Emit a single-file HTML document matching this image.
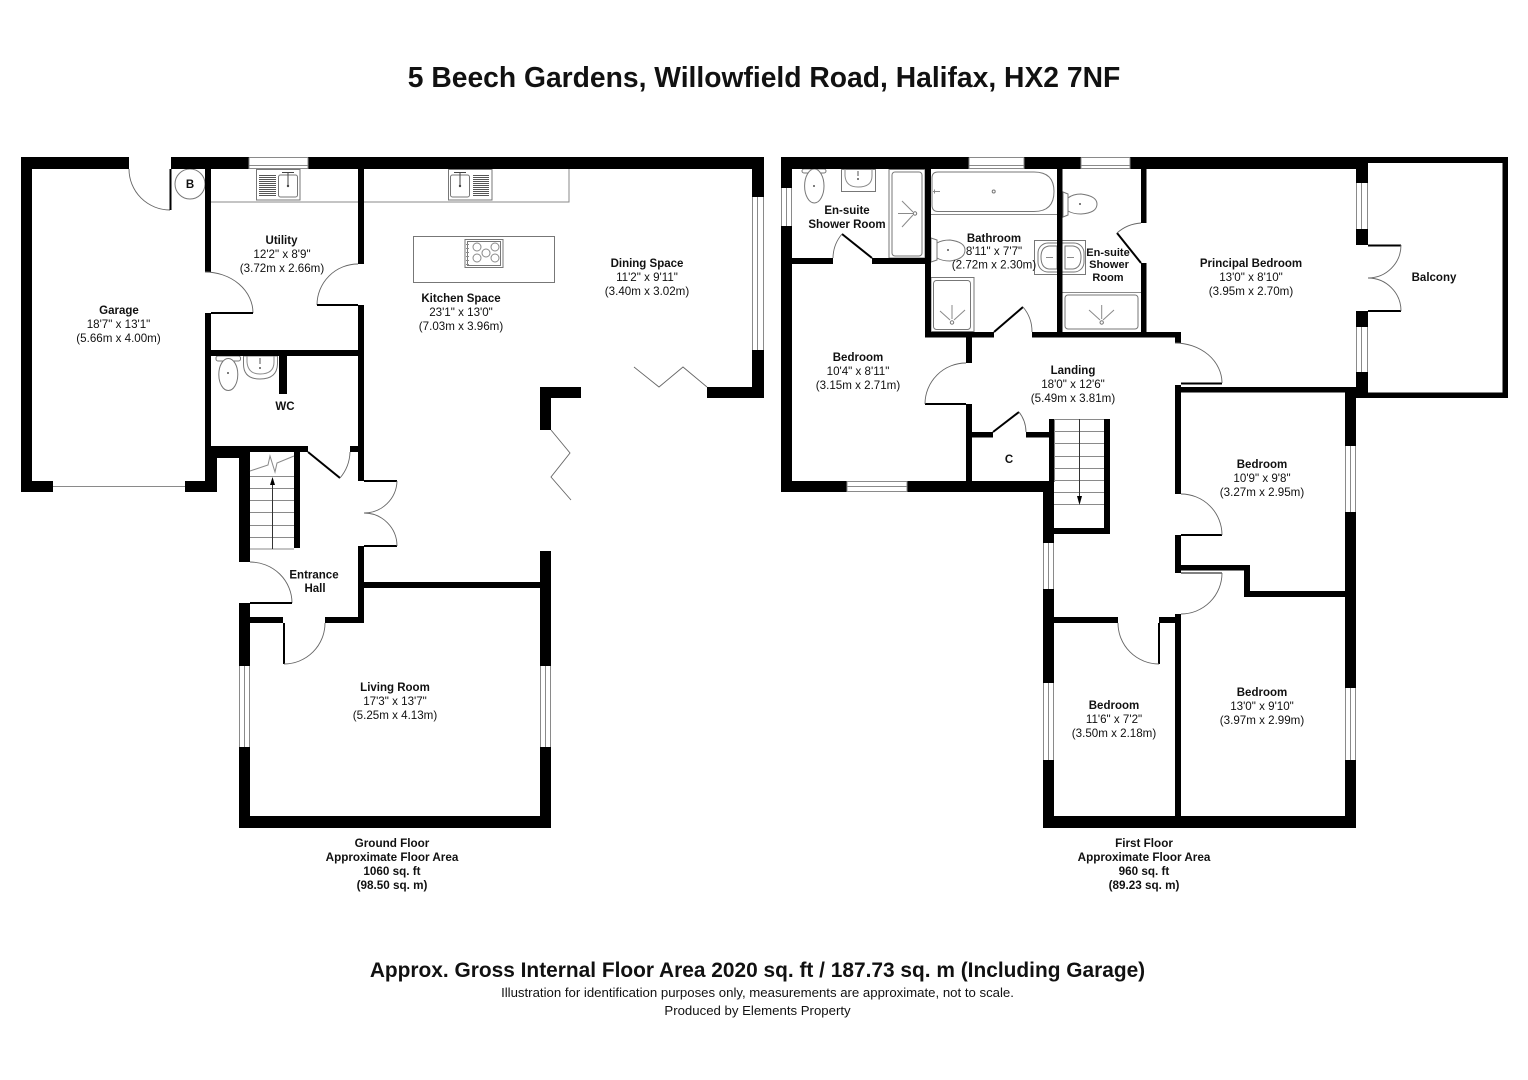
<!DOCTYPE html>
<html><head><meta charset="utf-8"><style>
html,body{margin:0;padding:0;background:#fff}
svg{display:block}
text{font-family:"Liberation Sans",Arial,sans-serif;text-anchor:middle;fill:#111}
.n{font-size:11.5px;font-weight:bold}
.d{font-size:11.6px}
.s{font-size:11.7px;font-weight:bold}
.w{fill:#000}
.a{fill:none;stroke:#666;stroke-width:.9}
.l{fill:none;stroke:#000;stroke-width:2}
.g{fill:none;stroke:#8a8a8a;stroke-width:1}
.f{fill:#fff;stroke:#777;stroke-width:1}
</style></head><body>
<svg width="1528" height="1080" viewBox="0 0 1528 1080" xmlns="http://www.w3.org/2000/svg">
<rect width="1528" height="1080" fill="#fff"/>
<text x="764" y="87" style="font-size:28.25px;font-weight:bold">5 Beech Gardens, Willowfield Road, Halifax, HX2 7NF</text>

<!-- GROUND FLOOR fixtures -->
<path class="g" d="M211 202H569V169"/>
<path class="g" d="M53 486.5H185"/>
<rect class="f" x="413.5" y="236.5" width="141" height="46"/>
<!-- hob -->
<rect class="f" x="465" y="239.5" width="38" height="28"/>
<rect class="f" x="467.5" y="241.5" width="33" height="24"/>
<g class="g"><circle cx="477" cy="247" r="4"/><circle cx="495" cy="247" r="4"/><circle cx="486" cy="253" r="4"/><circle cx="477" cy="258" r="4"/><circle cx="495" cy="258" r="4"/></g>
<path class="g" d="M466 244.500h3M466 248.500h3M466 252.500h3M466 256.500h3M466 260.500h3M466 264.500h3"/>
<!-- kitchen sink -->
<rect class="f" x="448.5" y="169.5" width="43.500" height="30.500"/>
<rect class="f" x="450.500" y="175" width="19" height="22" rx="2"/>
<path stroke="#555" stroke-width="1" d="M473 175.500h16M473 177.500h16M473 179.500h16M473 181.500h16M473 183.500h16M473 185.500h16M473 187.500h16M473 189.500h16M473 191.500h16M473 193.500h16M473 195.500h16"/>
<path stroke="#444" stroke-width="1" fill="none" d="M460 172v14M454 172.500h12"/>
<circle cx="460" cy="186" r="1.200" fill="#444"/>
<!-- utility sink -->
<rect class="f" x="256.500" y="169.500" width="43.500" height="30.500"/>
<rect class="f" x="278.500" y="175" width="19" height="22" rx="2"/>
<path stroke="#555" stroke-width="1" d="M259 175.500h17M259 177.500h17M259 179.500h17M259 181.500h17M259 183.500h17M259 185.500h17M259 187.500h17M259 189.500h17M259 191.500h17M259 193.500h17M259 195.500h17"/>
<path stroke="#444" stroke-width="1" fill="none" d="M288 172v14M282 172.500h12"/>
<circle cx="288" cy="186" r="1.200" fill="#444"/>
<!-- boiler -->
<circle class="f" cx="190" cy="184" r="15"/>
<!-- WC -->
<rect class="f" x="216" y="356" width="24.500" height="5" rx="2"/>
<ellipse class="f" cx="228.300" cy="374.500" rx="9.500" ry="16"/>
<path class="f" d="M243.500 356H277.500V364Q277 379 260 379Q243.500 379 243.500 364Z"/>
<path class="g" d="M247 356V362Q248 374 260 374Q274 374 274 362V356"/>
<circle cx="260" cy="368" r="1" fill="#555"/>
<circle cx="228" cy="373" r="1" fill="#555"/>
<path stroke="#555" d="M260 358v6"/>

<!-- GROUND walls -->
<g class="w">
<rect x="21" y="157" width="108" height="12"/>
<rect x="171" y="157" width="78" height="12"/>
<rect x="308" y="157" width="456" height="12"/>
<rect x="21" y="157" width="11" height="335"/>
<rect x="21" y="481" width="32" height="11"/>
<rect x="185" y="481" width="32" height="11"/>
<rect x="205" y="157" width="6" height="115"/>
<rect x="205" y="313" width="6" height="140"/>
<rect x="205" y="446" width="103" height="6"/>
<rect x="205" y="446" width="12" height="46"/>
<rect x="205" y="446" width="34" height="12"/>
<rect x="358" y="157" width="6" height="107"/>
<rect x="358" y="305" width="6" height="176"/>
<rect x="350" y="446" width="8" height="6"/>
<rect x="211" y="350" width="147" height="6"/>
<rect x="279" y="355" width="8" height="39"/>
<rect x="239" y="446" width="11" height="116"/>
<rect x="294" y="452" width="6" height="96"/>
<rect x="358" y="546" width="6" height="77"/>
<rect x="325" y="617" width="39" height="6"/>
<rect x="364" y="582" width="176" height="6"/>
<rect x="239" y="603" width="11" height="63"/>
<rect x="250" y="617" width="33" height="6"/>
<rect x="540" y="551" width="11" height="115"/>
<rect x="239" y="747" width="11" height="81"/>
<rect x="540" y="747" width="11" height="81"/>
<rect x="239" y="816" width="312" height="12"/>
<rect x="752" y="157" width="12" height="40"/>
<rect x="752" y="350" width="12" height="48"/>
<rect x="707" y="387" width="57" height="11"/>
<rect x="540" y="387" width="41" height="11"/>
<rect x="540" y="387" width="11" height="43"/>
</g>
<!-- ground windows -->
<g class="g">
<path d="M249 157.500H308M249 165.500H308M249 168.500H308M249 157.500V169M308 157.500V169"/>
<path d="M752.500 197V350M757.500 197V350M763.500 197V350"/>
<path d="M239.500 666V747M244.500 666V747M249.500 666V747"/>
<path d="M540.500 666V747M545.500 666V747M550.500 666V747"/>
</g>
<!-- ground doors -->
<path class="a" d="M129 169A41 41 0 0 0 170 210"/>
<path class="l" d="M170.500 169V210"/>
<path class="a" d="M205 272A48 41 0 0 1 253 313"/>
<path class="l" d="M211 313H253"/>
<path class="a" d="M358 264A41 41 0 0 0 317 305"/>
<path class="l" d="M317 305H358"/>
<path class="l" d="M308 452L340 478"/>
<path class="a" d="M340 478A42 42 0 0 0 350 452"/>
<path class="l" d="M364 481H397M364 546H397"/>
<path class="a" d="M397 481A33 33 0 0 1 364 513A33 33 0 0 1 397 546"/>
<path class="a" d="M250 562A42 41 0 0 1 292 603"/>
<path class="l" d="M250 603H292"/>
<path class="l" d="M284 623V664"/>
<path class="a" d="M284 664A41 41 0 0 0 325 623"/>
<path class="a" d="M707 387L683 367L659 387L634 367"/>
<path class="a" d="M551 430L570 453L551 477L571 500"/>
<!-- ground stairs -->
<path class="g" d="M250 476.500H294M250 488.500H294M250 500.500H294M250 512.500H294M250 525.500H294M250 537.500H294M250 549H294"/>
<path class="g" d="M250 471L268 465L270 456L275 472L277 463L294 456"/>
<path stroke="#333" stroke-width="1" d="M272.500 549V482"/>
<path fill="#000" d="M272.500 477L275 485H270Z"/>

<!-- FIRST FLOOR fixtures -->
<rect class="f" x="802" y="169" width="24" height="4" rx="2"/>
<ellipse class="f" cx="814.300" cy="186" rx="9.700" ry="17"/>
<circle cx="814" cy="186" r="1" fill="#555"/>
<rect class="f" x="841.500" y="169.500" width="34" height="22"/>
<path class="g" d="M845 169V176Q846 187 858 187Q872 187 872 176V169"/>
<circle cx="858" cy="179" r="1" fill="#555"/><path stroke="#555" d="M858 171v5"/>
<rect class="f" x="889" y="169.500" width="36" height="88.500"/>
<rect class="f" x="892" y="172" width="30" height="84" rx="3"/>
<path class="g" d="M913 213.500H898M913 212L902 201M913 215L902 227"/><circle class="f" cx="915" cy="213.500" r="1.700"/>
<!-- bathroom -->
<path class="f" d="M938 172H1034Q1054 172 1054 191.500Q1054 211.500 1034 211.500H938Q932 211.500 932 205V178Q932 172 938 172Z"/>
<circle class="f" cx="993.700" cy="191.500" r="1.500"/>
<path class="g" d="M933 191.500H940M934.500 189.500v4"/>
<path class="g" d="M931 214.500H1057"/>
<path class="f" d="M931 238L937 240V260L931 262Z"/>
<path class="f" d="M937 243Q942 240 950 240Q965 242 965 250Q965 259 950 261Q942 261 937 258Z"/>
<circle cx="948" cy="250" r="1" fill="#555"/>
<rect class="f" x="931" y="277.500" width="43" height="54"/>
<rect class="f" x="933.500" y="280.500" width="37" height="49" rx="3"/>
<path class="g" d="M952 305V319M940 311L950 320M965 310L954 320"/><circle class="f" cx="952" cy="322.500" r="1.700"/>
<rect class="f" x="1034.500" y="240.500" width="51" height="34"/>
<rect class="f" x="1038" y="243" width="46" height="29" rx="10"/>
<path class="f" d="M1057 246H1049Q1041 247 1041 257Q1041 268 1049 269H1057Z"/>
<path class="f" d="M1065 246H1073Q1081 247 1081 257Q1081 268 1073 269H1065Z"/>
<path class="g" d="M1046 257.500H1053M1067 257.500H1074"/>
<!-- ensuite 2 -->
<path class="f" d="M1063 192L1068 194V215L1063 217Z"/>
<path class="f" d="M1068 198Q1073 194 1081 194Q1097 196 1097 204Q1097 213 1081 214Q1073 214 1068 211Z"/>
<circle cx="1080" cy="204" r="1" fill="#555"/>
<path class="g" d="M1062 292.500H1141"/>
<rect class="f" x="1065" y="295" width="73" height="34" rx="3"/>
<path class="g" d="M1101.700 305V319M1089 310L1100 320M1114 310L1103 320"/><circle class="f" cx="1101.700" cy="322.500" r="1.700"/>

<!-- FIRST walls -->
<g class="w">
<rect x="781" y="157" width="188" height="12"/>
<rect x="1024" y="157" width="57" height="12"/>
<rect x="1130" y="157" width="238" height="12"/>
<rect x="781" y="157" width="11" height="31"/>
<rect x="781" y="226" width="11" height="266"/>
<rect x="781" y="481" width="66" height="11"/>
<rect x="907" y="481" width="147" height="11"/>
<rect x="792" y="258" width="41" height="6"/>
<rect x="872" y="258" width="53" height="6"/>
<rect x="925" y="157" width="6" height="180"/>
<rect x="925" y="332" width="69" height="5.500"/>
<rect x="1032" y="332" width="149" height="5.500"/>
<rect x="1057" y="157" width="5.500" height="180"/>
<rect x="1141" y="157" width="5.500" height="66"/>
<rect x="1141" y="263" width="5.500" height="74"/>
<rect x="966" y="337" width="6" height="26"/>
<rect x="966" y="404" width="6" height="77"/>
<rect x="971" y="432" width="22" height="5.500"/>
<rect x="1026" y="432" width="25" height="5.500"/>
<rect x="1049" y="419" width="5.500" height="63"/>
<rect x="1104" y="419" width="6" height="115"/>
<rect x="1049" y="528" width="61" height="6"/>
<rect x="1043" y="481" width="11" height="62"/>
<rect x="1043" y="589" width="11" height="94"/>
<rect x="1043" y="760" width="11" height="68"/>
<rect x="1054" y="617" width="64" height="6"/>
<rect x="1159" y="617" width="16" height="6"/>
<rect x="1175" y="614" width="6" height="202"/>
<rect x="1175" y="535" width="6" height="38"/>
<rect x="1175" y="385" width="6" height="109"/>
<rect x="1175" y="332" width="6" height="11"/>
<rect x="1175" y="387" width="181" height="5.500"/>
<rect x="1181" y="565" width="69" height="5.500"/>
<rect x="1244" y="565" width="6" height="32"/>
<rect x="1244" y="591" width="101" height="6"/>
<rect x="1345" y="392" width="11" height="54"/>
<rect x="1345" y="512" width="11" height="176"/>
<rect x="1345" y="760" width="11" height="68"/>
<rect x="1043" y="816" width="313" height="12"/>
<rect x="1356" y="157" width="12" height="26"/>
<rect x="1356" y="229" width="12" height="16"/>
<rect x="1356" y="311" width="12" height="16"/>
<rect x="1356" y="372" width="12" height="26"/>
<rect x="1356" y="157" width="152" height="6"/>
<rect x="1502.500" y="157" width="5.500" height="241"/>
<rect x="1356" y="392.500" width="152" height="5.500"/>
</g>
<!-- first windows -->
<g class="g">
<path d="M969 157.500H1024M969 165.500H1024M969 168.500H1024M969 157.500V169M1024 157.500V169"/>
<path d="M1081 157.500H1130M1081 165.500H1130M1081 168.500H1130M1081 157.500V169M1130 157.500V169"/>
<path d="M847 481.500H907M847 486.500H907M847 491.500H907M847 481V492M907 481V492"/>
<path d="M781.500 188V226M786.500 188V226M791.500 188V226"/>
<path d="M1043.500 543V589M1048.500 543V589M1053.500 543V589"/>
<path d="M1043.500 683V760M1048.500 683V760M1053.500 683V760"/>
<path d="M1345.500 446V512M1350.500 446V512M1355.500 446V512"/>
<path d="M1345.500 688V760M1350.500 688V760M1355.500 688V760"/>
<path d="M1356.500 183V229M1361.500 183V229M1367.500 183V229"/>
<path d="M1356.500 327V372M1361.500 327V372M1367.500 327V372"/>
</g>
<!-- first doors -->
<path class="l" d="M872 258L842 234"/><path class="a" d="M842 234A38 38 0 0 0 833 258"/>
<path class="l" d="M994 332L1023 307"/><path class="a" d="M1023 307A38 38 0 0 1 1032 332"/>
<path class="l" d="M1141 263L1117 233"/><path class="a" d="M1117 233A40 40 0 0 1 1141 223"/>
<path class="l" d="M925 404H966"/><path class="a" d="M966 363A41 41 0 0 0 925 404"/>
<path class="l" d="M993 432L1019 412"/><path class="a" d="M1019 412A33 33 0 0 1 1026 432"/>
<path class="l" d="M1181 383.500H1222"/><path class="a" d="M1175 343A47 40 0 0 1 1222 383"/>
<path class="l" d="M1181 535H1222"/><path class="a" d="M1181 494A41 41 0 0 1 1222 535"/>
<path stroke="#000" stroke-width="1" d="M1181 573H1222"/><path class="a" d="M1222 573A41 41 0 0 1 1181 614"/>
<path class="l" d="M1159 623V664"/><path class="a" d="M1118 623A41 41 0 0 0 1159 664"/>
<path class="l" d="M1368 245.500H1401M1368 311H1401"/>
<path class="a" d="M1401 245A33 33 0 0 1 1368 278A33 33 0 0 1 1401 311"/>
<!-- first stairs -->
<path class="g" d="M1054 419.500H1104M1054 431.500H1104M1054 443.500H1104M1054 456.500H1104M1054 468.500H1104M1054 480.500H1104M1054 492.500H1104M1054 504.500H1104"/>
<path stroke="#333" stroke-width="1" d="M1079.500 419V498"/>
<path fill="#000" d="M1079.500 505L1077 496H1082Z"/>

<!-- LABELS -->
<g>
<text class="n" x="190" y="188">B</text>
<text class="n" x="119" y="314">Garage</text><text class="d" x="118.500" y="328">18'7" x 13'1"</text><text class="d" x="118.500" y="342">(5.66m x 4.00m)</text>
<text class="n" x="281.500" y="244">Utility</text><text class="d" x="282" y="258">12'2" x 8'9"</text><text class="d" x="282" y="272">(3.72m x 2.66m)</text>
<text class="n" x="285" y="410">WC</text>
<text class="n" x="314" y="578.500">Entrance</text><text class="n" x="315" y="592">Hall</text>
<text class="n" x="461" y="302">Kitchen Space</text><text class="d" x="461" y="316">23'1" x 13'0"</text><text class="d" x="461" y="330">(7.03m x 3.96m)</text>
<text class="n" x="647" y="267">Dining Space</text><text class="d" x="647" y="281">11'2" x 9'11"</text><text class="d" x="647" y="295">(3.40m x 3.02m)</text>
<text class="n" x="395" y="691">Living Room</text><text class="d" x="395" y="705">17'3" x 13'7"</text><text class="d" x="395" y="719">(5.25m x 4.13m)</text>
<text class="s" x="392" y="847">Ground Floor</text><text class="s" x="392" y="861">Approximate Floor Area</text><text class="s" x="392" y="875">1060 sq. ft</text><text class="s" x="392" y="889">(98.50 sq. m)</text>

<text class="n" x="847" y="214">En-suite</text><text class="n" x="847" y="228">Shower Room</text>
<text class="n" x="994" y="242">Bathroom</text><text class="d" x="994" y="255">8'11" x 7'7"</text><text class="d" x="994" y="268.500">(2.72m x 2.30m)</text>
<text class="s" x="1108" y="256" style="font-size:11px">En-suite</text><text class="s" x="1109" y="268" style="font-size:11px">Shower</text><text class="s" x="1108" y="281" style="font-size:11px">Room</text>
<text class="n" x="1251" y="267">Principal Bedroom</text><text class="d" x="1251" y="281">13'0" x 8'10"</text><text class="d" x="1251" y="295">(3.95m x 2.70m)</text>
<text class="n" x="1434" y="281">Balcony</text>
<text class="n" x="858" y="361">Bedroom</text><text class="d" x="858" y="375">10'4" x 8'11"</text><text class="d" x="858" y="389">(3.15m x 2.71m)</text>
<text class="n" x="1073" y="374">Landing</text><text class="d" x="1073" y="388">18'0" x 12'6"</text><text class="d" x="1073" y="402">(5.49m x 3.81m)</text>
<text class="n" x="1009" y="463">C</text>
<text class="n" x="1262" y="468">Bedroom</text><text class="d" x="1262" y="482">10'9" x 9'8"</text><text class="d" x="1262" y="496">(3.27m x 2.95m)</text>
<text class="n" x="1114" y="709">Bedroom</text><text class="d" x="1114" y="723">11'6" x 7'2"</text><text class="d" x="1114" y="737">(3.50m x 2.18m)</text>
<text class="n" x="1262" y="696">Bedroom</text><text class="d" x="1262" y="710">13'0" x 9'10"</text><text class="d" x="1262" y="724">(3.97m x 2.99m)</text>
<text class="s" x="1144" y="847">First Floor</text><text class="s" x="1144" y="861">Approximate Floor Area</text><text class="s" x="1144" y="875">960 sq. ft</text><text class="s" x="1144" y="889">(89.23 sq. m)</text>
<text x="757.500" y="977" style="font-size:20.880px;font-weight:bold">Approx. Gross Internal Floor Area 2020 sq. ft / 187.73 sq. m (Including Garage)</text>
<text x="757.500" y="997" style="font-size:13.200px">Illustration for identification purposes only, measurements are approximate, not to scale.</text>
<text x="757.500" y="1015" style="font-size:13.200px">Produced by Elements Property</text>
</g>
</svg>
</body></html>
